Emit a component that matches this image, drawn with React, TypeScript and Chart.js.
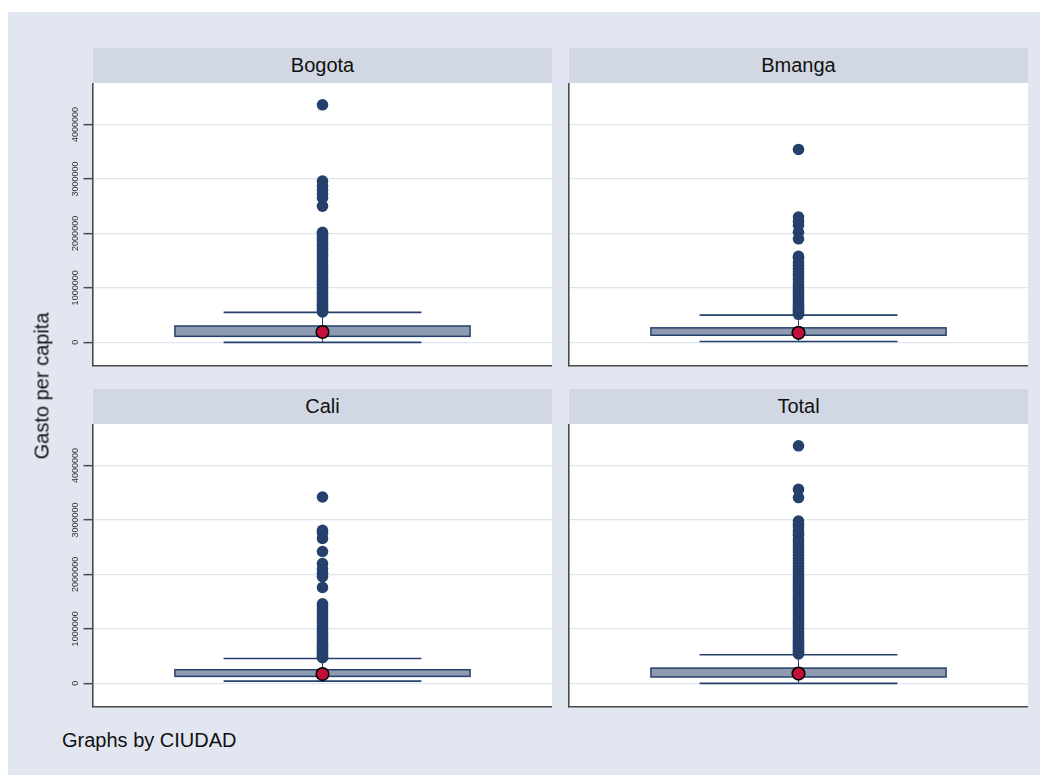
import React, { useEffect, useRef } from 'react';
import { Chart, registerables } from 'chart.js';

Chart.register(...registerables);

// ---------- data ----------
const CITIES = ['Bogota', 'Bmanga', 'Cali', 'Total'];
const Y_TICKS = [0, 1000000, 2000000, 3000000, 4000000];
const Y_MIN = -425000;
const Y_MAX = 4760000;

const WHISK_LO = [0, 15000, 40000, 0];
const Q1 = [110000, 130000, 128000, 117000];
const MEDIAN = [190000, 175000, 170000, 180000];
const Q3 = [300000, 266000, 250000, 280000];
const WHISK_HI = [550000, 500000, 455000, 525000];

const BOGOTA_OUT = [4360000, 2960000, 2870000, 2790000, 2720000, 2650000, 2500000, 2020000, 1990000, 1950000, 1910000, 1870000, 1820000, 1780000, 1730000, 1690000, 1640000, 1600000, 1560000, 1510000, 1470000, 1420000, 1380000, 1330000, 1290000, 1250000, 1200000, 1160000, 1120000, 1080000, 1040000, 1000000, 960000, 920000, 880000, 840000, 800000, 770000, 730000, 700000, 670000, 640000, 610000, 580000, 560000];
const BMANGA_OUT = [3540000, 2300000, 2220000, 2150000, 2020000, 1900000, 1580000, 1550000, 1470000, 1410000, 1360000, 1300000, 1250000, 1200000, 1150000, 1100000, 1050000, 1000000, 960000, 920000, 880000, 840000, 800000, 760000, 720000, 690000, 660000, 630000, 600000, 570000, 540000, 515000];
const CALI_OUT = [3420000, 2810000, 2760000, 2660000, 2420000, 2200000, 2100000, 2020000, 1960000, 1760000, 1460000, 1420000, 1370000, 1310000, 1260000, 1210000, 1160000, 1110000, 1060000, 1010000, 970000, 930000, 890000, 850000, 810000, 770000, 730000, 700000, 670000, 640000, 610000, 580000, 550000, 520000, 490000, 470000];
const TOTAL_OUT = [4360000, 3560000, 3410000, 2980000, 2920000, 2870000, 2800000, 2760000, 2720000, 2650000, 2600000, 2550000, 2500000, 2450000, 2400000, 2350000, 2300000, 2250000, 2200000, 2150000, 2100000, 2050000, 2000000, 1960000, 1920000, 1880000, 1840000, 1800000, 1760000, 1720000, 1680000, 1640000, 1600000, 1560000, 1520000, 1480000, 1440000, 1400000, 1360000, 1320000, 1280000, 1240000, 1200000, 1160000, 1120000, 1080000, 1040000, 1000000, 960000, 920000, 880000, 840000, 800000, 770000, 740000, 710000, 680000, 650000, 620000, 590000, 560000, 540000];
const OUTLIERS = [BOGOTA_OUT, BMANGA_OUT, CALI_OUT, TOTAL_OUT];

const Y_TITLE = 'Gasto per capita';
const NOTE = 'Graphs by CIUDAD';

// ---------- styles ----------
const BG = '#e1e6f0';
const STRIP = '#d2d8e3';
const GRID = '#dfe4ee';
const AXIS = '#4a4a4a';
const NAVY = '#26406c';
const BOX_FILL = '#8d9ab0';
const MED_FILL = '#c3103a';
const FONT = '"Liberation Sans", Arial, sans-serif';
const BOX_HALF = 0.643;
const WHISK_HALF = 0.431;

const OFF = 8; // body margin

type PanelProps = { idx: number; showLabels: boolean; left: number; top: number; width: number; height: number; axisW: number };

function zeroPad(s: any) {
  s.paddingTop = 0;
  s.paddingBottom = 0;
  s.paddingLeft = 0;
  s.paddingRight = 0;
}

function makeBoxPlugin(i: number) {
  return {
    id: 'boxplot' + i,
    beforeDraw(chart: any) {
      const { ctx, chartArea: a } = chart;
      ctx.save();
      ctx.fillStyle = '#ffffff';
      ctx.fillRect(a.left, a.top, a.right - a.left, a.bottom - a.top);
      ctx.restore();
    },
    beforeDatasetsDraw(chart: any) {
      const { ctx } = chart;
      const xs = chart.scales.x;
      const ys = chart.scales.y;
      const cx = xs.getPixelForValue(0);
      const bl = xs.getPixelForValue(-BOX_HALF);
      const br = xs.getPixelForValue(BOX_HALF);
      const wl = xs.getPixelForValue(-WHISK_HALF);
      const wr = xs.getPixelForValue(WHISK_HALF);
      const yLo = ys.getPixelForValue(WHISK_LO[i]);
      const yQ1 = ys.getPixelForValue(Q1[i]);
      const yQ3 = ys.getPixelForValue(Q3[i]);
      const yHi = ys.getPixelForValue(WHISK_HI[i]);
      ctx.save();
      ctx.strokeStyle = NAVY;
      ctx.lineWidth = 1;
      ctx.beginPath();
      ctx.moveTo(cx, yHi); ctx.lineTo(cx, yQ3);
      ctx.moveTo(cx, yQ1); ctx.lineTo(cx, yLo);
      ctx.stroke();
      ctx.lineWidth = 1.6;
      ctx.beginPath();
      ctx.moveTo(wl, yHi); ctx.lineTo(wr, yHi);
      ctx.moveTo(wl, yLo); ctx.lineTo(wr, yLo);
      ctx.stroke();
      ctx.fillStyle = BOX_FILL;
      ctx.fillRect(bl, yQ3, br - bl, yQ1 - yQ3);
      ctx.lineWidth = 1.5;
      ctx.strokeRect(bl, yQ3, br - bl, yQ1 - yQ3);
      ctx.beginPath();
      ctx.lineWidth = 1;
      ctx.moveTo(cx, yQ3); ctx.lineTo(cx, yQ1);
      ctx.stroke();
      ctx.restore();
    },
  };
}

function Panel({ idx, showLabels, left, top, width, height, axisW }: PanelProps) {
  const ref = useRef<HTMLCanvasElement>(null);
  useEffect(() => {
    if (!ref.current) return;
    const chart = new Chart(ref.current, {
      type: 'scatter',
      data: {
        datasets: [
          {
            data: [{ x: 0, y: MEDIAN[idx] }],
            pointRadius: 6.3,
            backgroundColor: MED_FILL,
            borderColor: '#000000',
            borderWidth: 1.6,
          },
          {
            data: OUTLIERS[idx].map((v) => ({ x: 0, y: v })),
            pointRadius: 5.8,
            backgroundColor: NAVY,
            borderColor: NAVY,
            borderWidth: 0,
          },
        ],
      },
      options: {
        responsive: false,
        maintainAspectRatio: false,
        animation: false,
        layout: { padding: 0, autoPadding: false },
        events: [],
        plugins: { legend: { display: false }, tooltip: { enabled: false }, title: { display: false } },
        scales: {
          x: {
            type: 'linear',
            min: -1,
            max: 1,
            ticks: { display: false },
            grid: { display: false, drawTicks: false },
            border: { display: true, color: AXIS, width: 1.6 },
            afterFit: (s: any) => { s.height = 3.5; zeroPad(s); },
          },
          y: {
            type: 'linear',
            min: Y_MIN,
            max: Y_MAX,
            afterBuildTicks: (s: any) => { s.ticks = Y_TICKS.map((v) => ({ value: v })); },
            ticks: {
              display: showLabels,
              autoSkip: false,
              minRotation: 90,
              maxRotation: 90,
              crossAlign: 'center',
              padding: -10,
              color: '#333333',
              font: { family: FONT, size: 9 },
              callback: (v: any) => String(v),
            },
            grid: {
              color: GRID,
              lineWidth: 1.3,
              drawTicks: showLabels,
              tickLength: 9.5,
              tickColor: AXIS,
              tickWidth: 1.5,
            },
            border: { display: true, color: AXIS, width: 1.6 },
            afterFit: (s: any) => { s.width = axisW; zeroPad(s); },
          },
        },
      } as any,
      plugins: [makeBoxPlugin(idx)],
    });
    return () => chart.destroy();
  }, [idx, showLabels, axisW]);
  return (
    <canvas
      ref={ref}
      width={width}
      height={height}
      style={{ position: 'absolute', left: left - OFF, top: top - OFF, width, height }}
    />
  );
}

function Header({ text, left, top, width, height }: { text: string; left: number; top: number; width: number; height: number }) {
  return (
    <div
      style={{
        position: 'absolute', left: left - OFF, top: top - OFF, width, height,
        background: STRIP, color: '#111', font: `20px ${FONT}`,
        display: 'flex', alignItems: 'center', justifyContent: 'center',
      }}
    >
      {text}
    </div>
  );
}

export default function App() {
  const cols = [
    { hx: 93, hw: 459, cx: 50, cw: 502, axisW: 43, labels: true },
    { hx: 569, hw: 459, cx: 567, cw: 461, axisW: 2, labels: false },
  ];
  const rows = [
    { hy: 48, hh: 35, cy: 83 },
    { hy: 389, hh: 35, cy: 424 },
  ];
  const items: any[] = [];
  CITIES.forEach((name, i) => {
    const c = cols[i % 2];
    const r = rows[Math.floor(i / 2)];
    items.push(<Header key={'h' + i} text={name} left={c.hx} top={r.hy} width={c.hw} height={r.hh} />);
    items.push(
      <Panel key={'p' + i} idx={i} showLabels={c.labels} left={c.cx} top={r.cy} width={c.cw} height={286} axisW={c.axisW} />
    );
  });
  return (
    <div style={{ position: 'relative', width: 1040, height: 767, overflow: 'hidden' }}>
      <div style={{ position: 'absolute', left: 0, top: 4, width: 1040, height: 763, background: BG }} />
      {items}
      <div
        style={{
          position: 'absolute', left: 42 - OFF, top: 386 - OFF,
          transform: 'translate(-50%, -50%) rotate(-90deg)',
          whiteSpace: 'nowrap', font: `20px ${FONT}`, color: '#111',
        }}
      >
        {Y_TITLE}
      </div>
      <div
        style={{
          position: 'absolute', left: 62 - OFF, top: 729 - OFF,
          whiteSpace: 'nowrap', font: `20px ${FONT}`, color: '#111', lineHeight: '23px',
        }}
      >
        {NOTE}
      </div>
    </div>
  );
}
